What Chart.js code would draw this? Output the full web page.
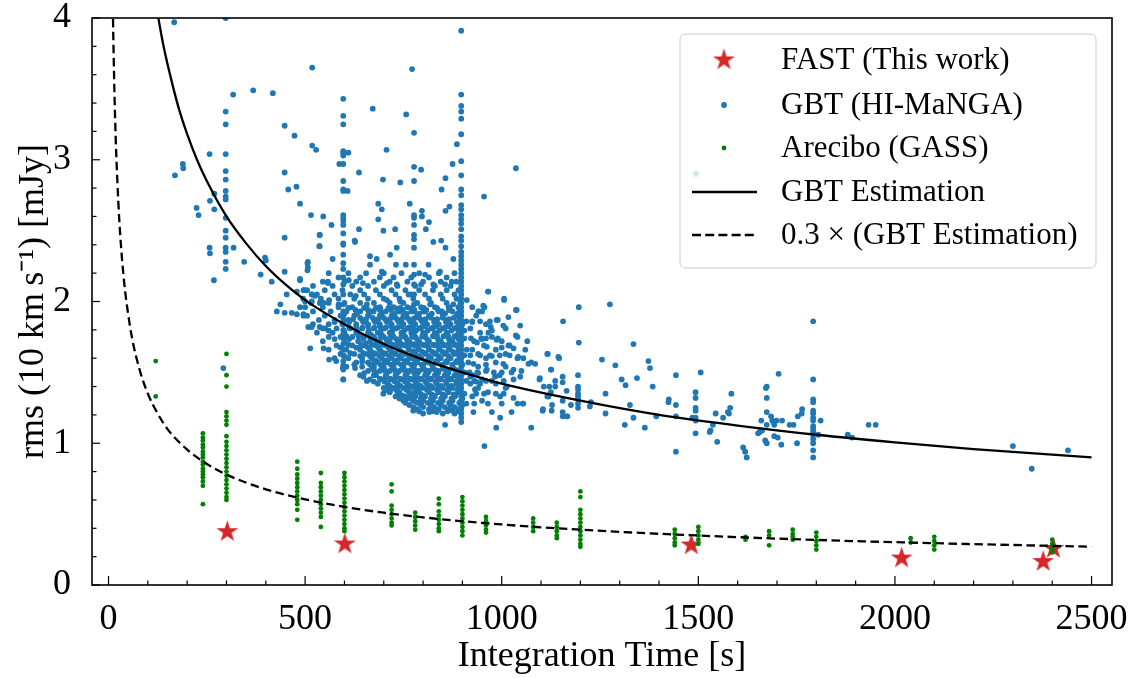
<!DOCTYPE html>
<html><head><meta charset="utf-8">
<script src="https://cdn.jsdelivr.net/npm/chart.js@4.4.1/dist/chart.umd.min.js"></script>
<style>html,body{margin:0;padding:0;background:#fff;}#wrap{width:1134px;height:678px;}</style>
</head><body><div id="wrap"><canvas id="c" width="1134" height="678"></canvas></div>
<script>
// ---------------- data ----------------
const xTicks = [0, 500, 1000, 1500, 2000, 2500];
const xMinorTicks = [100,200,300,400,600,700,800,900,1100,1200,1300,1400,1600,1700,1800,1900,2100,2200,2300,2400];
const yTicks = [0, 1, 2, 3, 4];
const yMinorTicks = [0.2,0.4,0.6,0.8,1.2,1.4,1.6,1.8,2.2,2.4,2.6,2.8,3.2,3.4,3.6,3.8];

const fastTime = [302, 601, 1482, 2017, 2377, 2403];
const fastRms  = [0.376, 0.289, 0.282, 0.19, 0.165, 0.258];

// GBT (HI-MaNGA): scattered points [time, rms]
const gbtPoints = [
 [167,3.97],[298,4.00],[897,3.91],[518,3.65],[772,3.64],[368,3.49],[317,3.46],[418,3.47],[292,1.53],
 [189,2.97],[190,2.94],[169,2.89],[257,3.04],[269,2.76],[258,2.71],[269,2.65],[224,2.66],[229,2.61],
 [257,2.38],[258,2.34],[318,2.38],[268,2.15],[345,2.28],[387,2.19],[398,2.31],[400,2.29],[415,2.14],
 [448,3.24],[473,3.17],[448,2.91],[457,2.79],[478,2.81],[487,2.69],[448,2.45],[448,2.21],[515,2.61],
 [546,2.60],[567,2.54],[537,2.47],[536,2.39],[518,3.10],[528,3.07],
 [587,2.97],[610,3.05],[608,2.78],[637,2.91],[637,2.51],[626,2.43],[570,2.30],[558,2.14],
 [672,3.36],[707,3.07],[698,2.86],[742,2.84],[757,3.32],
 [795,2.93],[766,2.69],[797,2.64],[797,2.60],[815,2.56],[807,2.51],[686,2.69],[695,2.65],[686,2.58],[699,2.50],[729,2.51],
 [886,3.11],[875,2.97],[857,2.87],[847,2.79],[857,2.64],[867,2.67],[826,2.42],[846,2.43],[857,2.38],[877,2.30],[911,2.01],
 [1036,2.94],[955,2.74],[965,2.07],[1006,2.01],[1196,1.96],[1275,1.98],[1036,1.94],[956,1.96],[941,1.93],
 [428,1.93],[448,1.92],[466,1.92],[479,1.91],[496,1.91],[437,1.98],[453,2.05],[479,2.07],[496,2.08],
 [507,2.28],[507,2.24],[517,2.05],[538,1.99],[561,2.01],[585,1.98],[487,2.15],
 [611,2.15],[629,2.04],[647,2.13],[665,2.32],[665,2.26],[682,2.30],[695,2.21],[708,2.13],[716,2.33],
 [731,2.26],[733,2.38],[733,2.12],[756,2.26],[763,2.05],[795,2.12],[805,2.19],[814,2.26],[826,2.12],
 [843,2.21],[856,2.12],[873,2.14],[877,1.98],[657,1.98],[674,1.93],[691,1.95],[708,2.01],[733,1.95],
 [742,2.00],[801,1.93],[818,1.98],[848,1.93],
 [537,2.47],[537,2.39],[627,2.42],[506,2.27],[506,2.22],[487,2.16],[558,2.13],[498,2.08],[517,2.05],
 [525,2.04],[500,2.00],[517,2.00],[538,1.99],[547,1.99],[487,1.96],[496,1.90],[508,1.82],[517,1.82],
 [537,1.82],[551,1.81],[513,1.67],[547,1.67],[561,1.59],[579,1.58],[596,1.53],[597,1.45],
 [627,1.53],[648,1.47],[657,1.44],[670,1.53],[675,1.48],[699,1.35],[716,1.37],[736,1.35],
 [757,1.31],[775,1.23],[791,1.29],[816,1.22],[835,1.22],[856,1.13],[875,1.23],[928,1.22],[956,0.98],
 [986,1.11],[975,1.22],[996,1.18],[1025,1.22],[1053,1.28],[1075,1.11],[1104,1.23],[1127,1.23],[1119,1.33],
 [1116,1.63],[1144,1.61],[1125,1.52],[1096,1.45],[1121,1.40],[1085,1.56],[1065,1.72],[1047,1.83],
 [1036,1.76],[1038,1.94],[1017,1.89],[1006,2.02],[987,1.87],[966,2.07],[966,1.78],[941,1.93],[953,1.97],
 [972,1.82],[1004,1.83],[1017,1.69],[1030,1.67],[1042,1.61],[1055,1.60],[1068,1.56],[1004,1.56],
 [1030,1.52],[1047,1.47],[1013,1.40],[996,1.33],[1030,1.32],[1055,1.28],[983,1.47],[962,1.52],
 [945,1.42],[932,1.38],[920,1.47],[928,1.56],[911,1.66],[937,1.71],[962,1.68],[987,1.73],
 [1156,1.86],[1196,1.71],[1117,1.63],[1146,1.60],[1335,1.70],[1255,1.59],[1289,1.55],[1373,1.58],
 [1377,1.53],[1305,1.45],[1315,1.41],[1344,1.46],[1384,1.40],[1443,1.48],[1506,1.50],
 [1584,1.35],[1581,1.25],[1575,1.22],[1578,1.21],[1544,1.21],[1563,1.18],[1537,1.13],[1529,1.08],
 [1548,1.01],[1531,1.09],[1443,1.27],[1443,1.19],[1443,0.94],[1485,1.18],[1425,1.31],[1424,1.29],
 [1393,1.19],[1364,1.11],[1326,1.27],[1335,1.18],[1313,1.13],[1264,1.35],[1264,1.21],[1224,1.26],[1227,1.29],
 [1176,1.27],[1155,1.47],[1155,1.43],[1155,1.30],[1155,1.22],[1155,1.19],[1167,1.19],
 [1128,1.27],[1125,1.36],[1136,1.40],[1136,1.44],[1105,1.24],[1097,1.46],[1107,1.40],[1116,1.33],
 [1126,1.52],[1165,1.37],[1165,1.19],
 [1811,1.16],[1805,1.06],[1704,1.49],[1672,1.39],[1674,1.32],[1674,1.22],[1674,1.40],[1660,1.16],
 [1688,1.16],[1699,1.16],[1713,1.16],[1732,1.13],[1742,1.13],[1753,1.19],[1764,1.24],[1763,1.21],
 [1656,1.08],[1670,1.02],[1674,1.00],[1693,1.05],[1702,1.04],[1711,0.99],[1751,1.00],[1674,1.13],
 [1693,1.13],[1652,1.07],[1662,1.09],[1685,1.19],[1691,1.15],[1614,0.97],[1619,0.94],[1623,0.90],
 [1880,1.06],[1891,1.04],[1933,1.13],[1951,1.13],[2300,0.98],[2440,0.95],[2348,0.82],[1494,2.90]
];
// GBT vertical stripes at fixed integration times: [time, [rms...]]
const gbtColumns = [
 [298,[3.34,3.25,3.04,2.92,2.86,2.78,2.74,2.72,2.59,2.50,2.45,2.38,2.35,2.28,2.23]],
 [597,[3.43,3.31,3.25,3.06,3.05,3.03,2.97,2.85,2.79,2.78,2.61,2.59,2.57,2.54,2.48,2.41,2.40,2.33,2.27,2.23,2.17,2.12,2.05,1.98,1.93,1.90,1.87,1.84,1.80,1.77,1.74,1.70,1.66,1.62,1.58,1.55,1.52,1.45]],
 [777,[3.19,2.95,2.85,2.61,2.59,2.54,2.47,2.44,2.38,2.26,2.19,2.12,2.05,1.98,1.93,1.88,1.84,1.79,1.75,1.70,1.65,1.60,1.55,1.50,1.45,1.40,1.35,1.30]],
 [897,[3.46,3.38,3.34,3.29,3.18,2.99,2.89,2.79,2.75,2.68,2.65,2.61,2.58,2.55,2.51,2.46,2.43,2.39,2.35,2.32,2.29,2.26,2.23,2.20,2.17,2.14,2.11,2.08,2.05,2.02,1.99,1.96,1.93,1.90,1.87,1.84,1.81,1.78,1.75,1.72,1.69,1.66,1.63,1.60,1.57,1.54,1.51,1.48,1.45,1.42,1.39,1.36,1.33,1.30,1.27,1.24,1.21,1.18,1.15]],
 [1194,[1.48,1.40,1.38,1.35,1.33,1.31,1.28,1.25]],
 [1493,[1.36,1.32,1.25,1.23,1.18,1.16,1.07]],
 [1792,[1.86,1.45,1.31,1.29,1.23,1.21,1.18,1.16,1.12,1.10,1.08,1.06,1.03,1.00,0.95,0.90]]
];
// GBT dense cloud, read row by row: [rms, [times...]]
const gbtCloudRows = [
 [2.20,[560,610,655,700,745,790,840,880]],
 [2.17,[585,640,690,725,770,815,860]],
 [2.14,[545,600,630,675,715,760,800,845,885]],
 [2.11,[520,570,620,660,700,735,780,830,870]],
 [2.08,[505,550,595,640,680,720,755,790,825,860,890]],
 [2.05,[530,575,615,650,690,730,770,805,845,880]],
 [2.02,[495,540,585,625,660,700,740,775,815,850,885]],
 [1.99,[515,560,600,640,675,715,750,785,820,860,895]],
 [1.96,[500,545,585,620,655,690,725,760,795,830,865,890,925]],
 [1.955,[610,650,680,712,742,772,802,835,868]],
 [1.94,[628,660,690,718,748,778,808,838,866,893]],
 [1.93,[520,565,605,640,670,705,740,770,805,840,875,950]],
 [1.915,[600,632,662,695,728,758,790,822,856,888]],
 [1.90,[505,550,590,625,660,690,720,750,785,815,850,885,935]],
 [1.885,[640,672,700,730,760,790,820,850,878]],
 [1.875,[622,655,686,716,746,776,806,836,866,893]],
 [1.87,[535,575,610,645,675,705,735,765,795,830,860,895,990]],
 [1.86,[910,925,945,970]],
 [1.855,[575,612,648,678,708,738,768,798,828,858,886,925]],
 [1.84,[520,560,595,630,660,690,720,750,780,810,840,870,900,960]],
 [1.825,[630,660,690,718,745,775,805,835,865,893]],
 [1.815,[612,646,676,705,735,765,795,825,855,885]],
 [1.81,[545,580,615,645,675,700,730,760,790,820,850,880,920,1010]],
 [1.795,[560,598,632,662,692,722,752,782,812,842,872,905,975]],
 [1.78,[530,570,600,630,660,685,715,745,770,800,830,860,890,945]],
 [1.765,[640,668,695,722,750,777,805,835,862,888]],
 [1.755,[605,636,664,692,718,745,772,798,825,852,880]],
 [1.75,[560,590,620,650,675,700,725,755,780,805,835,865,895,975,1040]],
 [1.74,[905,922,948,960,990]],
 [1.735,[575,612,648,678,706,732,758,785,810,838,866,890,950]],
 [1.72,[545,600,635,665,690,715,740,765,790,815,845,875,930,1000]],
 [1.705,[655,682,708,735,760,787,812,838,866,893]],
 [1.695,[610,642,670,696,722,748,774,800,826,852,880]],
 [1.69,[580,620,650,680,705,730,755,780,805,830,855,885,955,1020]],
 [1.675,[590,630,660,686,712,738,762,788,814,842,868,895,1000]],
 [1.66,[560,605,640,665,690,715,740,765,790,815,840,865,890,925,985,1060]],
 [1.645,[668,694,720,746,772,798,824,850,876]],
 [1.635,[615,648,676,702,728,754,780,806,832,858,884]],
 [1.63,[590,625,655,680,705,730,755,780,805,830,855,880,940,1010]],
 [1.62,[905,920,945,970,995,1020]],
 [1.615,[600,640,665,690,715,740,765,790,815,840,865,892,975]],
 [1.60,[575,610,645,670,695,720,745,770,795,820,845,870,895,960,1040]],
 [1.585,[680,706,732,758,784,810,836,862,888]],
 [1.575,[645,676,702,728,754,780,806,832,858,884]],
 [1.57,[630,660,685,710,735,760,785,810,835,860,885,915,985,1075]],
 [1.555,[625,665,692,718,744,770,796,822,848,874,900,960]],
 [1.54,[605,645,675,700,725,750,775,800,825,850,875,940,1010]],
 [1.525,[695,722,748,774,800,826,852,878]],
 [1.515,[675,702,728,754,780,806,832,858,884]],
 [1.51,[660,690,715,740,765,790,815,840,865,890,960,1050]],
 [1.50,[905,918,938,980,1000,1025]],
 [1.495,[650,680,708,734,760,786,812,838,864,890,940]],
 [1.48,[640,680,705,730,755,780,805,830,855,880,925,995]],
 [1.465,[705,732,758,784,810,836,862,888]],
 [1.455,[690,716,742,768,794,820,846,872]],
 [1.45,[665,695,720,745,770,795,820,845,870,895,950,1030]],
 [1.44,[910,930,960,975,1005]],
 [1.435,[675,702,728,754,780,806,832,858,884,935]],
 [1.42,[685,710,735,760,785,810,835,860,885,920,985]],
 [1.405,[715,742,768,794,820,846,872]],
 [1.395,[708,735,762,788,814,840,866,890]],
 [1.39,[700,725,750,775,800,825,850,875,940,1010]],
 [1.375,[705,732,758,784,810,836,862,888]],
 [1.36,[715,740,765,790,815,840,865,890,965]],
 [1.35,[905,935,955,985,1005]],
 [1.345,[740,768,795,822,850,878]],
 [1.335,[748,775,802,828,855,882]],
 [1.33,[730,755,780,805,830,855,880,925]],
 [1.315,[740,768,794,820,846,872,900]],
 [1.30,[750,775,800,825,850,875,950]],
 [1.285,[755,785,812,838,866,892]],
 [1.28,[910,930,965,1000,1040]],
 [1.27,[765,795,820,845,870,900]],
 [1.255,[775,800,828,855,880]],
 [1.24,[785,815,840,865,890]],
 [1.225,[790,825,862,890]],
 [1.21,[800,850,880]]
];
// Arecibo (GASS): [time, [rms...]]
const areciboColumns = [
 [120,[1.58,1.33]],
 [240,[1.07,1.04,1.02,0.99,0.97,0.94,0.92,0.90,0.87,0.85,0.82,0.80,0.78,0.76,0.73,0.70,0.57]],
 [300,[1.63,1.48,1.40,1.22,1.19,1.16,1.13,1.05,1.01,0.98,0.95,0.92,0.89,0.86,0.83,0.80,0.77,0.74,0.71,0.68,0.65,0.62,0.60]],
 [480,[0.87,0.82,0.78,0.75,0.72,0.69,0.66,0.63,0.60,0.57,0.53,0.46]],
 [540,[0.79,0.72,0.69,0.66,0.63,0.60,0.57,0.54,0.51,0.48,0.41]],
 [600,[0.79,0.76,0.73,0.70,0.67,0.64,0.61,0.58,0.55,0.52,0.49,0.46,0.43,0.40,0.38]],
 [720,[0.71,0.66,0.56,0.53,0.50,0.47,0.44,0.42]],
 [780,[0.51,0.48,0.45,0.42,0.39]],
 [840,[0.61,0.57,0.52,0.49,0.46,0.43,0.40,0.38]],
 [900,[0.62,0.59,0.56,0.53,0.50,0.47,0.44,0.41,0.38,0.35]],
 [960,[0.48,0.45,0.42,0.39,0.37]],
 [1080,[0.47,0.44,0.41,0.38]],
 [1140,[0.44,0.41,0.38,0.35,0.33]],
 [1200,[0.66,0.62,0.53,0.50,0.47,0.44,0.41,0.38,0.35,0.32,0.29,0.27]],
 [1440,[0.39,0.36,0.33,0.30,0.28]],
 [1500,[0.41,0.38,0.35,0.32,0.29]],
 [1620,[0.34,0.32]],
 [1680,[0.38,0.35,0.28]],
 [1740,[0.39,0.36,0.34,0.32]],
 [1800,[0.37,0.34,0.31,0.28,0.25]],
 [2040,[0.33,0.30]],
 [2100,[0.34,0.31,0.28,0.25]],
 [2400,[0.32,0.29,0.26,0.23]]
];
// GBT estimation curve
const estTime = [110,120,130,140,160,180,200,225,250,300,350,400,450,500,600,700,800,900,1000,1200,1400,1600,1800,2000,2200,2500];
const estRms  = [4.29,4.11,3.95,3.80,3.56,3.35,3.18,3.00,2.85,2.60,2.41,2.25,2.12,2.01,1.84,1.70,1.59,1.50,1.42,1.30,1.20,1.125,1.06,1.006,0.959,0.90];
const est03Time = [10,12,14,17,20,25,30,40,50,60,80,100,125,150,200,250,300,400,500,600,700,800,1000,1200,1500,1800,2100,2500];
const est03Rms  = [4.27,3.90,3.61,3.27,3.02,2.70,2.46,2.13,1.91,1.74,1.51,1.35,1.21,1.10,0.955,0.854,0.779,0.675,0.604,0.551,0.510,0.477,0.427,0.390,0.349,0.318,0.295,0.27];

const seriesLabels = ['FAST (This work)', 'GBT (HI-MaNGA)', 'Arecibo (GASS)', 'GBT Estimation', '0.3 \u00d7 (GBT Estimation)'];
const xTitle = 'Integration Time [s]';
const yTitle = 'rms (10 km\u2009s\u207B\u00B9) [mJy]';

// ---------------- build datasets ----------------
const fastData = fastTime.map((t,i)=>({x:t,y:fastRms[i]}));
const gbtData = gbtPoints.map(p=>({x:p[0],y:p[1]}));
gbtColumns.forEach(c=>c[1].forEach(v=>gbtData.push({x:c[0],y:v})));
gbtCloudRows.forEach(r=>r[1].forEach(t=>gbtData.push({x:t,y:r[0]})));
const arecData = [];
areciboColumns.forEach(c=>c[1].forEach(v=>arecData.push({x:c[0],y:v})));
const estData = estTime.map((t,i)=>({x:t,y:estRms[i]}));
const est03Data = est03Time.map((t,i)=>({x:t,y:est03Rms[i]}));

const SERIF = '"Liberation Serif","Times New Roman",serif';
const RED='#d62728', BLUE='#1f77b4', GREEN='#008000';

function makeStar(R, color){
  const s = Math.ceil(2*R+4);
  const c = document.createElement('canvas'); c.width=s; c.height=s;
  const g = c.getContext('2d'); g.translate(s/2, s/2);
  g.beginPath();
  for(let i=0;i<10;i++){ const r = (i%2)? R*0.382 : R; const a = -Math.PI/2 + i*Math.PI/5; g.lineTo(r*Math.cos(a), r*Math.sin(a)); }
  g.closePath(); g.fillStyle=color; g.fill();
  return c;
}
const starImg = makeStar(11.5, RED);

const overlay = {
  id:'overlay',
  afterDatasetsDraw(chart){
    const {ctx, chartArea:a, scales:{x,y}} = chart;
    ctx.save();
    ctx.strokeStyle='#000';
    ctx.lineWidth=1.2;
    const seg=(x1,y1,x2,y2)=>{ctx.beginPath();ctx.moveTo(x1,y1);ctx.lineTo(x2,y2);ctx.stroke();};
    xMinorTicks.forEach(v=>{const p=x.getPixelForValue(v); seg(p,a.bottom,p,a.bottom-4.5);});
    xTicks.forEach(v=>{const p=x.getPixelForValue(v); seg(p,a.bottom,p,a.bottom-9);});
    yMinorTicks.forEach(v=>{const p=y.getPixelForValue(v); seg(a.left,p,a.left+4.5,p);});
    yTicks.forEach(v=>{const p=y.getPixelForValue(v); seg(a.left,p,a.left+8,p);});
    ctx.lineWidth=1.6;
    ctx.strokeRect(a.left, a.top, a.right-a.left, a.bottom-a.top);

    // legend
    const bx=680, by=34, bw=416, bh=234, rr=6;
    ctx.beginPath();
    ctx.moveTo(bx+rr,by); ctx.lineTo(bx+bw-rr,by); ctx.quadraticCurveTo(bx+bw,by,bx+bw,by+rr);
    ctx.lineTo(bx+bw,by+bh-rr); ctx.quadraticCurveTo(bx+bw,by+bh,bx+bw-rr,by+bh);
    ctx.lineTo(bx+rr,by+bh); ctx.quadraticCurveTo(bx,by+bh,bx,by+bh-rr);
    ctx.lineTo(bx,by+rr); ctx.quadraticCurveTo(bx,by,bx+rr,by); ctx.closePath();
    ctx.fillStyle='rgba(255,255,255,0.8)'; ctx.fill();
    ctx.strokeStyle='#cccccc'; ctx.lineWidth=1; ctx.stroke();
    const rows=[60,105,148,192,235], mx=724, tx=781;
    const ds = chart.data.datasets;
    ctx.drawImage(starImg, mx-starImg.width/2, rows[0]-starImg.height/2);
    ctx.fillStyle=BLUE; ctx.beginPath(); ctx.arc(mx,rows[1],2.9,0,2*Math.PI); ctx.fill();
    ctx.fillStyle=GREEN; ctx.beginPath(); ctx.arc(mx,rows[2],2.4,0,2*Math.PI); ctx.fill();
    ctx.strokeStyle='#000'; ctx.lineWidth=2.3;
    seg(692,rows[3],757,rows[3]);
    ctx.setLineDash([9,4.2]); seg(692,rows[4],757,rows[4]); ctx.setLineDash([]);
    ctx.fillStyle='#000'; ctx.font='31px '+SERIF; ctx.textBaseline='middle'; ctx.textAlign='left';
    ds.forEach((d,i)=>ctx.fillText(d.label, tx, rows[i]+1));
    ctx.restore();
  }
};

Chart.defaults.font.family = SERIF;
Chart.defaults.color = '#000';

new Chart(document.getElementById('c'), {
  type:'scatter',
  data:{datasets:[
    {label:seriesLabels[0], data:fastData, pointStyle:starImg, pointRadius:11, backgroundColor:RED, borderWidth:0, order:4, clip:0},
    {label:seriesLabels[1], data:gbtData, pointRadius:2.9, pointHoverRadius:2.9, backgroundColor:BLUE, borderWidth:0, order:3, clip:0},
    {label:seriesLabels[2], data:arecData, pointRadius:2.4, pointHoverRadius:2.4, backgroundColor:GREEN, borderWidth:0, order:2, clip:0},
    {label:seriesLabels[3], data:estData, showLine:true, pointRadius:0, borderColor:'#000', borderWidth:2.3, cubicInterpolationMode:'monotone', order:1, clip:0},
    {label:seriesLabels[4], data:est03Data, showLine:true, pointRadius:0, borderColor:'#000', borderWidth:2.3, borderDash:[8.5,4.5], cubicInterpolationMode:'monotone', order:0, clip:0}
  ]},
  options:{
    responsive:false, animation:false, devicePixelRatio:1,
    events:[],
    layout:{padding:{top:18,right:22,bottom:0,left:0}},
    plugins:{legend:{display:false}, tooltip:{enabled:false}},
    scales:{
      x:{type:'linear', min:-42, max:2552,
         grid:{display:false}, border:{display:false},
         afterBuildTicks:s=>{s.ticks = xTicks.map(v=>({value:v}));},
         afterFit:s=>{s.height=93; s.paddingLeft=0; s.paddingRight=0;},
         ticks:{padding:9, maxRotation:0, autoSkip:false, color:'#000', font:{size:36, lineHeight:1}, callback:v=>String(v)},
         title:{display:true, text:xTitle, color:'#000', font:{size:36, lineHeight:1.2}, padding:{top:0,bottom:0}}},
      y:{type:'linear', min:0, max:4,
         grid:{display:false}, border:{display:false},
         afterBuildTicks:s=>{s.ticks = yTicks.map(v=>({value:v}));},
         afterFit:s=>{s.width=92; s.paddingTop=0; s.paddingBottom=0;},
         ticks:{padding:13, color:'#000', font:{size:36, lineHeight:1}, callback:v=>String(v)},
         title:{display:true, text:yTitle, color:'#000', font:{size:36, lineHeight:1.2}, padding:{top:12,bottom:0}}}
    }
  },
  plugins:[overlay]
});
</script></body></html>
